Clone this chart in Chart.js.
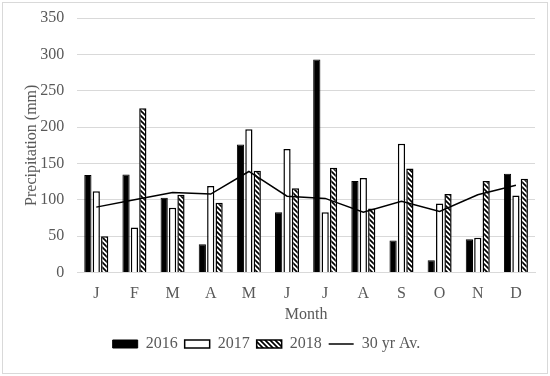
<!DOCTYPE html>
<html>
<head>
<meta charset="utf-8">
<script src="https://cdn.jsdelivr.net/npm/chart.js@4"></script>
<style>
  body { margin: 0; background: #fff; }
  #frame { position: absolute; left: 2px; top: 2px; width: 544px; height: 370px; border: 1px solid #d9d9d9; }
  canvas { position: absolute; left: 0; top: 0; }
</style>
</head>
<body>
<div id="frame"></div>
<canvas id="myChart" width="550" height="376"></canvas>
<script>
const months = ['J', 'F', 'M', 'A', 'M', 'J', 'J', 'A', 'S', 'O', 'N', 'D'];
const rain2016 = [134, 135, 103, 39, 176, 83, 293, 126, 44, 17, 46, 136];
const rain2017 = [112, 62, 89, 119, 197, 170, 83, 130, 177, 95, 48, 106];
const rain2018 = [50, 226, 107, 96, 140, 116, 144, 88, 143, 108, 126, 129];
const avg30 = [90, 100, 110, 108, 139, 105, 102, 83, 98, 84, 107, 120];
const yTicks = [0, 50, 100, 150, 200, 250, 300, 350];

function hatch() {
    const c = document.createElement('canvas');
    c.width = 5;
    c.height = 5;
    const g = c.getContext('2d');
    g.fillStyle = '#fff';
    g.fillRect(0, 0, 5, 5);
    g.strokeStyle = '#000';
    g.lineWidth = 1.7;
    g.beginPath();
    g.moveTo(-5, 0); g.lineTo(5, 10);
    g.moveTo(0, 0); g.lineTo(5, 5);
    g.moveTo(0, -5); g.lineTo(10, 5);
    g.stroke();
    return g.createPattern(c, 'repeat');
}

// legend sits a little left of centre in the original
const legendShift = {
    id: 'legendShift',
    afterLayout(chart) {
        chart.legend.left -= 12;
        chart.legend.right -= 12;
    }
};

const grey = '#595959';
const font = { family: '"Liberation Serif", "Times New Roman", serif', size: 16 };

let ctx = document.getElementById('myChart').getContext('2d');
let precipChart = new Chart(ctx, {
    data: {
        labels: months,
        datasets: [
            {
                type: 'line',
                label: '30 yr Av.',
                data: avg30,
                borderColor: '#000',
                backgroundColor: '#000',
                borderWidth: 1.5,
                pointRadius: 0,
                tension: 0,
                pointStyle: 'line',
                order: 0
            },
            {
                type: 'bar',
                label: '2016',
                data: rain2016,
                backgroundColor: '#000',
                borderColor: '#000',
                borderWidth: 1,
                pointStyle: 'rect',
                order: 1
            },
            {
                type: 'bar',
                label: '2017',
                data: rain2017,
                backgroundColor: '#fff',
                borderColor: '#000',
                borderWidth: 1.5,
                pointStyle: 'rect',
                order: 1
            },
            {
                type: 'bar',
                label: '2018',
                data: rain2018,
                backgroundColor: hatch(),
                borderColor: '#000',
                borderWidth: 1.5,
                pointStyle: 'rect',
                order: 1
            }
        ]
    },
    plugins: [legendShift],
    options: {
        responsive: false,
        animation: false,
        datasets: {
            bar: { categoryPercentage: 0.66, barPercentage: 0.86 }
        },
        layout: { padding: { left: 22, right: 15, top: 18, bottom: 14 } },
        plugins: {
            legend: {
                position: 'bottom',
                labels: {
                    usePointStyle: true,
                    pointStyleWidth: 25,
                    boxHeight: 8,
                    color: grey,
                    font: font,
                    padding: 7,
                    sort: (a, b) => {
                        const o = ['2016', '2017', '2018', '30 yr Av.'];
                        return o.indexOf(a.text) - o.indexOf(b.text);
                    }
                }
            },
            tooltip: { enabled: false }
        },
        scales: {
            x: {
                grid: { display: false, drawTicks: false },
                border: { color: '#d9d9d9' },
                ticks: { color: grey, font: font, padding: 12 },
                title: { display: true, text: 'Month', color: grey, font: font, padding: { top: -11, bottom: 5 } }
            },
            y: {
                min: 0,
                max: 350,
                afterBuildTicks: axis => { axis.ticks = yTicks.map(v => ({ value: v })); },
                afterFit: axis => { axis.paddingTop = 0; },
                grid: { color: '#d9d9d9', drawTicks: false },
                border: { display: false },
                ticks: { color: grey, font: font, padding: 13 },
                title: { display: true, text: 'Precipitation (mm)', color: grey, font: font, padding: { top: 0, bottom: -14 } }
            }
        }
    }
});
</script>
</body>
</html>
